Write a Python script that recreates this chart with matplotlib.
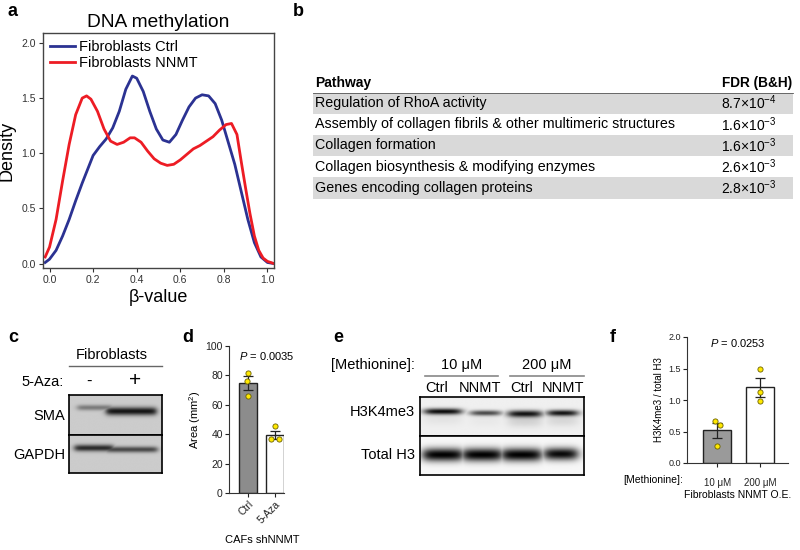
import numpy as np
import matplotlib
matplotlib.use("Agg")
import matplotlib.pyplot as plt
from matplotlib.patches import Rectangle

plt.rcParams['font.family'] = ['Liberation Sans', 'DejaVu Sans']
plt.rcParams['mathtext.fontset'] = 'custom'
plt.rcParams['mathtext.rm'] = 'Liberation Sans'
plt.rcParams['mathtext.it'] = 'Liberation Sans:italic'
plt.rcParams['mathtext.bf'] = 'Liberation Sans:bold'

# ---------------- data ----------------
# panel a: density curves
beta_ctrl = [-0.02, 0.00, 0.03, 0.06, 0.09, 0.12, 0.15, 0.18, 0.20, 0.23, 0.26, 0.29, 0.32,
             0.35, 0.38, 0.40, 0.43, 0.46, 0.49, 0.52, 0.55, 0.58, 0.61, 0.64, 0.67, 0.70,
             0.73, 0.76, 0.79, 0.82, 0.85, 0.88, 0.91, 0.94, 0.97, 1.00, 1.03]
dens_ctrl = [0.01, 0.04, 0.12, 0.25, 0.40, 0.57, 0.73, 0.88, 0.98, 1.06, 1.13, 1.23, 1.38,
             1.58, 1.70, 1.68, 1.56, 1.38, 1.22, 1.12, 1.10, 1.17, 1.30, 1.42, 1.50, 1.53,
             1.52, 1.45, 1.30, 1.10, 0.90, 0.65, 0.40, 0.19, 0.06, 0.01, 0.00]
beta_nnmt = [-0.02, 0.00, 0.03, 0.06, 0.09, 0.12, 0.15, 0.17, 0.19, 0.22, 0.25, 0.28, 0.31,
             0.34, 0.37, 0.39, 0.42, 0.45, 0.48, 0.51, 0.54, 0.57, 0.60, 0.63, 0.66, 0.69,
             0.72, 0.75, 0.78, 0.81, 0.835, 0.86, 0.88, 0.90, 0.92, 0.94, 0.96, 0.98, 1.00, 1.03]
dens_nnmt = [0.06, 0.15, 0.40, 0.75, 1.08, 1.35, 1.50, 1.52, 1.49, 1.38, 1.22, 1.11, 1.08,
             1.10, 1.14, 1.14, 1.10, 1.02, 0.95, 0.91, 0.89, 0.90, 0.94, 0.99, 1.04, 1.07,
             1.11, 1.15, 1.21, 1.26, 1.27, 1.17, 0.92, 0.68, 0.45, 0.25, 0.12, 0.05, 0.02, 0.00]
series_labels = ['Fibroblasts Ctrl', 'Fibroblasts NNMT']

# panel b: pathway table
pathways = ['Regulation of RhoA activity',
            'Assembly of collagen fibrils & other multimeric structures',
            'Collagen formation',
            'Collagen biosynthesis & modifying enzymes',
            'Genes encoding collagen proteins']
fdr_mant = ['8.7', '1.6', '1.6', '2.6', '2.8']
fdr_exp = [-4, -3, -3, -3, -3]

# panel c: blot band intensities (lanes: -, +)
c_lanes = ['-', '+']
c_rows = ['SMA', 'GAPDH']
c_sma = [0.4, 0.9]
c_gapdh = [0.8, 0.65]

# panel d: bars
d_cats = ['Ctrl', '5-Aza']
d_means = [74.6, 39.4]
d_sem = [4.7, 3.0]
d_pts = [[81.8, 76.1, 65.9], [45.5, 36.4, 36.4]]
d_p = '0.0035'

# panel e: blot band intensities
e_conc = ['10 μM', '200 μM']
e_lanes = ['Ctrl', 'NNMT', 'Ctrl', 'NNMT']
e_rows = ['H3K4me3', 'Total H3']
e_h3k4 = [0.95, 0.7, 0.92, 0.92]
e_h3 = [1.0, 1.0, 1.0, 0.97]

# panel f: bars
f_cats = ['10 μM', '200 μM']
f_means = [0.517, 1.20]
f_sem = [0.12, 0.15]
f_pts = [[0.67, 0.61, 0.27], [1.49, 1.12, 0.99]]
f_p = '0.0253'

# ---------------- figure ----------------
W, H = 800, 550
fig = plt.figure(figsize=(8, 5.5), dpi=100)

ov = fig.add_axes([0, 0, 1, 1])
ov.set_xlim(0, W)
ov.set_ylim(H, 0)
ov.axis('off')


def ax_px(l, t, r, b):
    a = fig.add_axes([l / W, 1 - b / H, (r - l) / W, (b - t) / H])
    a.patch.set_alpha(0)
    return a


for lab, x, y in [('a', 8, 12), ('b', 293, 12), ('c', 8, 337), ('d', 182, 337),
                  ('e', 333, 337), ('f', 610, 337)]:
    ov.text(x, y, lab, fontsize=13, fontweight='bold', ha='left', va='center')

# ---- panel a ----
axa = ax_px(43, 33, 274, 268)
axa.plot(beta_ctrl, dens_ctrl, color='#2b3292', lw=2.0, label=series_labels[0])
axa.plot(beta_nnmt, dens_nnmt, color='#ed1c24', lw=2.0, label=series_labels[1])
axa.set_xlim(-0.03, 1.03)
axa.set_ylim(-0.04, 2.09)
axa.set_xticks(np.arange(0, 1.01, 0.2))
axa.set_yticks(np.arange(0, 2.01, 0.5))
axa.xaxis.set_major_formatter(matplotlib.ticker.FormatStrFormatter('%.1f'))
axa.yaxis.set_major_formatter(matplotlib.ticker.FormatStrFormatter('%.1f'))
axa.tick_params(labelsize=7.5, length=3, width=0.8, colors='#333333', pad=2)
for s in axa.spines.values():
    s.set_color('#444444')
    s.set_linewidth(1.0)
axa.set_title('DNA methylation', fontsize=13.8, pad=4)
axa.set_ylabel('Density', fontsize=13, labelpad=4)
axa.set_xlabel('β-value', fontsize=13, labelpad=3)
axa.legend(loc='upper left', frameon=False, fontsize=10.5, handlelength=1.7,
           borderaxespad=0.2, labelspacing=0.15, handletextpad=0.3, borderpad=0.3)

# ---- panel b ----
x0, x1 = 313, 793
row_h = 21.2
top = 92.5
ov.text(315, 83, 'Pathway', fontsize=10, fontweight='bold', va='center')
ov.text(722, 83, 'FDR (B&H)', fontsize=9.8, fontweight='bold', va='center')
for i, (pw, m, e) in enumerate(zip(pathways, fdr_mant, fdr_exp)):
    yt = top + i * row_h
    if i % 2 == 0:
        ov.add_patch(Rectangle((x0, yt), x1 - x0, row_h, facecolor='#d9d9d9',
                               edgecolor='none'))
    yc = yt + row_h / 2
    ov.text(315, yc, pw, fontsize=10.3, va='center')
    ov.text(721, yc, m + '×10$^{' + str(e).replace('-', '−') + '}$', fontsize=10, va='center')
ov.plot([x0, x1], [top, top], color='#555555', lw=0.6)


# ---- blot helper ----
def blot(ax, intens, centers, halfw, yc, sig, bg, smear=None):
    nx, ny = 400, 80
    x = np.linspace(0, 1, nx)[None, :]
    y = np.linspace(0, 1, ny)[:, None]
    band = np.zeros((ny, nx))
    for k, inten in enumerate(intens):
        h = 1 / (1 + np.exp((np.abs(x - centers[k]) - halfw[k]) / 0.018))
        v = np.exp(-((y - yc[k]) / sig[k]) ** 2)
        b = inten * h * v
        if smear is not None:
            v2 = np.exp(-((y - yc[k] - 0.2) / 0.15) ** 2)
            b = b + smear[k] * h * v2
        band = np.maximum(band, b)
    img = np.clip(bg + (1 - bg) * band, 0, 1)
    ax.imshow(img, cmap='gray_r', vmin=0, vmax=1, extent=(0, 1, 1, 0),
              aspect='auto', interpolation='bilinear')
    ax.set_xticks([])
    ax.set_yticks([])
    for s in ax.spines.values():
        s.set_linewidth(1.2)
        s.set_color('black')


# ---- panel c ----
ov.text(112, 355, 'Fibroblasts', fontsize=10.5, ha='center', va='center')
ov.plot([69, 162], [366, 366], color='#666666', lw=1.0)
ov.text(64, 382, '5-Aza:', fontsize=10.5, ha='right', va='center')
for lane, xl in zip(c_lanes, [89, 135]):
    ov.text(xl, 381, lane, fontsize=15 if lane == '+' else 12, ha='center', va='center')
axc1 = ax_px(69, 395, 162, 435)
blot(axc1, c_sma, [0.28, 0.67], [0.19, 0.27], [0.33, 0.42], [0.07, 0.1], 0.2)
axc2 = ax_px(69, 435, 162, 473)
blot(axc2, c_gapdh, [0.27, 0.67], [0.21, 0.28], [0.34, 0.38], [0.09, 0.08], 0.2)
for r, yy in zip(c_rows, [416, 455]):
    ov.text(65, yy, r, fontsize=10.5, ha='right', va='center')


# ---- bar helper ----
def bars(ax, cats, means, sem, pts, offs, colors, xlim, ylim, yticks, fmt, fs):
    xs = np.arange(len(cats))
    ax.bar(xs, means, width=0.67, color=colors, edgecolor='#222222', linewidth=1.0, zorder=1)
    ax.errorbar(xs, means, yerr=sem, fmt='none', ecolor='#222222', elinewidth=0.9,
                capsize=3.5, capthick=0.9, zorder=2)
    for i, p in enumerate(pts):
        ax.scatter(np.full(len(p), xs[i]) + np.array(offs[i]), p, s=14, color='#ffe800',
                   edgecolor='#6b6100', linewidth=0.6, zorder=3, clip_on=False)
    ax.set_xlim(*xlim)
    ax.set_ylim(*ylim)
    ax.set_yticks(yticks)
    ax.yaxis.set_major_formatter(matplotlib.ticker.FormatStrFormatter(fmt))
    ax.set_xticks(xs)
    ax.spines['top'].set_visible(False)
    ax.spines['right'].set_visible(False)
    for s in ['left', 'bottom']:
        ax.spines[s].set_linewidth(0.8)
        ax.spines[s].set_color('#333333')
    ax.tick_params(labelsize=fs, length=3, width=0.8, pad=1.5, colors='#222222')


# ---- panel d ----
axd = ax_px(229, 346, 284, 493)
bars(axd, d_cats, d_means, d_sem, d_pts, [[0, -0.05, 0], [0, -0.16, 0.15]],
     ['#8c8c8c', 'white'], (-0.7, 1.33), (0, 100), np.arange(0, 101, 20), '%d', 7.5)
axd.set_xticklabels(d_cats, rotation=45, ha='right', rotation_mode='anchor', fontsize=7.5)
axd.set_ylabel('Area (mm$^2$)', fontsize=8, labelpad=2)
ov.text(267, 356, '$P$ = ' + d_p, fontsize=8, ha='center', va='center')
ov.text(262, 540, 'CAFs shNNMT', fontsize=8, ha='center', va='center')

# ---- panel e ----
ov.text(415, 365, '[Methionine]:', fontsize=10.5, ha='right', va='center')
for conc, (xa, xb) in zip(e_conc, [(425, 498), (510, 584)]):
    ov.text((xa + xb) / 2, 365, conc, fontsize=10.5, ha='center', va='center')
    ov.plot([xa, xb], [376, 376], color='#888888', lw=1.2)
for lane, xl in zip(e_lanes, [437, 480, 522, 563]):
    ov.text(xl, 388, lane, fontsize=10.5, ha='center', va='center')
axe1 = ax_px(420, 397, 584, 436)
blot(axe1, e_h3k4, [0.14, 0.4, 0.64, 0.87], [0.11, 0.09, 0.1, 0.09],
     [0.37, 0.41, 0.43, 0.41], [0.08, 0.07, 0.09, 0.08], 0.06,
     smear=[0.05, 0.03, 0.12, 0.10])
axe2 = ax_px(420, 436, 584, 475)
blot(axe2, e_h3, [0.14, 0.38, 0.62, 0.86], [0.12, 0.12, 0.12, 0.1],
     [0.48, 0.48, 0.48, 0.46], [0.17, 0.17, 0.17, 0.16], 0.03)
for r, yy in zip(e_rows, [412, 455]):
    ov.text(415, yy, r, fontsize=10.5, ha='right', va='center')

# ---- panel f ----
axf = ax_px(687, 337, 788, 463)
bars(axf, f_cats, f_means, f_sem, f_pts, [[-0.06, 0.06, 0], [0, 0, 0]],
     ['#9a9a9a', 'white'], (-0.7, 1.65), (0, 2.0), np.arange(0, 2.01, 0.5), '%.1f', 6.5)
axf.set_xticklabels(f_cats, fontsize=7)
axf.tick_params(axis='x', pad=8)
axf.set_ylabel('H3K4me3 / total H3', fontsize=7, labelpad=3)
ov.text(738, 343, '$P$ = ' + f_p, fontsize=8, ha='center', va='center')
ov.text(683, 480, '[Methionine]:', fontsize=7.5, ha='right', va='center')
ov.text(738, 495, 'Fibroblasts NNMT O.E.', fontsize=7.5, ha='center', va='center')

fig.savefig('out.png', dpi=100)
